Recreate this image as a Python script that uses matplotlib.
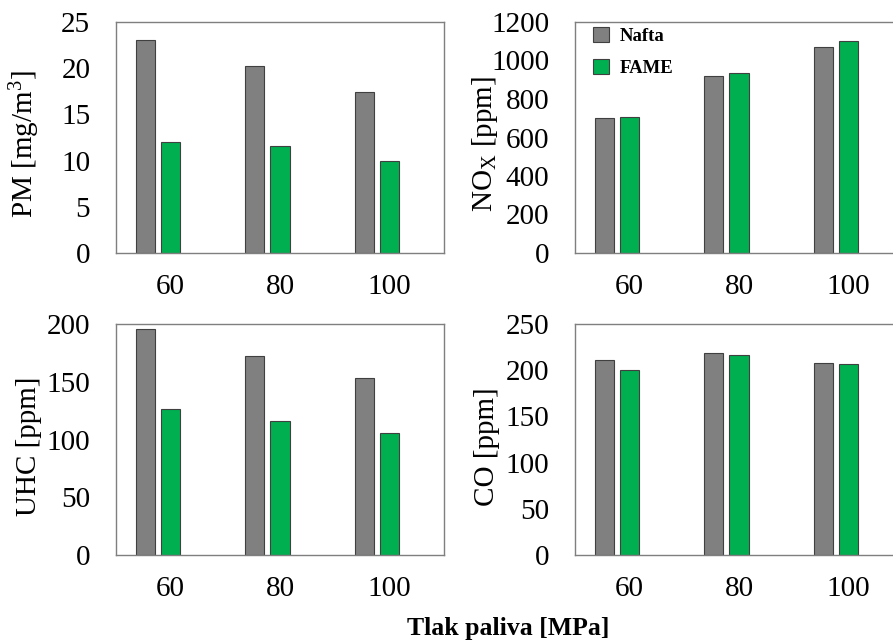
#!/usr/bin/env python
import numpy as np
import matplotlib
matplotlib.use("Agg")
import matplotlib.pyplot as plt

plt.rc('font', family='Liberation Serif')
plt.rc('mathtext', fontset='custom', rm='Liberation Serif', it='Liberation Serif:italic')

# data
pressures = ["60", "80", "100"]
series = ["Nafta", "FAME"]

pm_nafta = [23.0, 20.2, 17.4]
pm_fame = [12.0, 11.6, 10.0]

nox_nafta = [703, 918, 1072]
nox_fame = [705, 933, 1100]

uhc_nafta = [196, 172.5, 153]
uhc_fame = [126.5, 116, 106]

co_nafta = [211.5, 218.5, 208]
co_fame = [200, 216, 207]

gray = "#808080"
green = "#00B050"

fig = plt.figure(figsize=(8.93, 6.41), dpi=100)
W, H = 893.0, 641.0

def make_ax(x0, y0, w=328, h=231):
    # pixel box (left, top) -> figure fraction
    return fig.add_axes([x0 / W, 1 - (y0 + h) / H, w / W, h / H])

panels = [
    (make_ax(116, 22), pm_nafta, pm_fame, 25, 5, "PM [mg/m$^3$]", -0.226),
    (make_ax(575, 22), nox_nafta, nox_fame, 1200, 200, "NO$_\\mathrm{X}$ [ppm]", -0.229),
    (make_ax(116, 324), uhc_nafta, uhc_fame, 200, 50, "UHC [ppm]", -0.226),
    (make_ax(575, 324), co_nafta, co_fame, 250, 50, "CO [ppm]", -0.229),
]

x = np.arange(len(pressures))
bw = 0.174
off = 0.229

for i, (ax, naf, fam, ymax, step, lab, lx) in enumerate(panels):
    ax.bar(x - off, naf, bw, color=gray, edgecolor="#404040", linewidth=0.8, label=series[0])
    ax.bar(x, fam, bw, color=green, edgecolor="#404040", linewidth=0.8, label=series[1])
    ax.set_xlim(-0.5, 2.5)
    ax.set_ylim(0, ymax)
    ax.set_yticks(np.arange(0, ymax + step, step))
    ax.set_xticks(x)
    ax.set_xticklabels(pressures)
    ax.tick_params(axis='both', length=0, labelsize=21)
    ax.tick_params(axis='y', pad=18.5)
    ax.tick_params(axis='x', pad=15)
    for s in ax.spines.values():
        s.set_color("#7f7f7f")
        s.set_linewidth(1.0)
    ax.set_ylabel(lab, fontsize=21)
    ax.yaxis.set_label_coords(lx, 0.47)
    if i == 1:
        ax.legend(loc='upper left', bbox_to_anchor=(18 / 328, 1 - 5 / 231),
                  frameon=False, prop={'family': 'Liberation Serif', 'weight': 'bold', 'size': 13.5},
                  handlelength=0.85, handleheight=0.85, labelspacing=0.75,
                  borderpad=0, borderaxespad=0, handletextpad=0.55)

fig.text(508 / W, 1 - 628 / H, "Tlak paliva [MPa]", ha='center', va='center',
         fontsize=18.5, fontweight='bold')

plt.savefig("out.png", dpi=100)
print("Done!")
